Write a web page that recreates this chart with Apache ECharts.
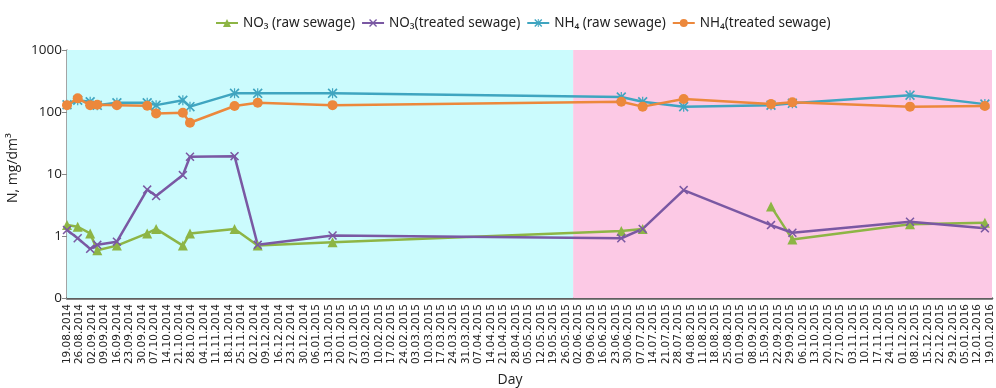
<!DOCTYPE html>
<html><head><meta charset="utf-8">
<script src="https://cdn.jsdelivr.net/npm/echarts@6/dist/echarts.min.js"></script>
<style>html,body{margin:0;padding:0;background:#fff}#c{width:996px;height:388px}</style>
</head><body><div id="c"></div>
<script>
// sampling dates
const sampleDates = ['19.08.2014','25.08.2014','01.09.2014','05.09.2014','16.09.2014','03.10.2014','08.10.2014','23.10.2014','27.10.2014','21.11.2014','04.12.2014','15.01.2015','26.06.2015','08.07.2015','31.07.2015','18.09.2015','30.09.2015','05.12.2015','16.01.2016'];
const no3Raw     = [1.5, 1.41, 1.1, 0.59, 0.7, 1.1, 1.3, 0.7, 1.1, 1.3, 0.7, 0.79, 1.2, 1.3, null, 3.0, 0.88, 1.55, 1.64];
const no3Treated = [1.25, 0.92, 0.62, 0.72, 0.81, 5.6, 4.4, 9.6, 19, 19.4, 0.72, 1.02, 0.92, 1.3, 5.5, 1.5, 1.13, 1.7, 1.33];
const nh4Raw     = [131, 155, 146, 128, 141, 141, 129, 155, 122, 200, 200, 200, 175, 146, 122, 129, 138, 187, 134];
const nh4Treated = [129, 166, 129, 131, 129, 126, 95, 97, 67, 125, 141, 129, 146, 122, 162, 134, 143, 122, 125];
const seriesNames = ['NO\u2083 (raw sewage)', 'NO\u2083(treated sewage)', 'NH\u2084 (raw sewage)', 'NH\u2084(treated sewage)'];
const axisStart = '19.08.2014';
const axisEnd = '20.01.2016';
const periodSplit = '30.05.2015';
const yTicks = [0.1, 1, 10, 100, 1000];
const yTickLabels = ['0', '1', '10', '100', '1000'];

const BASE = (function(){const p = axisStart.split('.').map(Number); return Date.UTC(p[2], p[1]-1, p[0]);})();
function dayIndex(s){const p = s.split('.').map(Number); return Math.round((Date.UTC(p[2], p[1]-1, p[0]) - BASE) / 864e5);}
function pad(n){return (n < 10 ? '0' : '') + n;}
function dayLabel(n){const t = new Date(BASE + n * 864e5); return pad(t.getUTCDate()) + '.' + pad(t.getUTCMonth()+1) + '.' + t.getUTCFullYear();}
function pts(vals){return sampleDates.map((d, i) => [dayIndex(d), vals[i] == null ? '-' : vals[i]]);}

const xPath = 'path://M0,1.2L1.2,0L5,3.8L8.8,0L10,1.2L6.2,5L10,8.8L8.8,10L5,6.2L1.2,10L0,8.8L3.8,5Z';
const starPath = 'path://M0,1.2L1.2,0L5,3.8L8.8,0L10,1.2L6.2,5L10,8.8L8.8,10L5,6.2L1.2,10L0,8.8L3.8,5ZM4.4,0L5.6,0L5.6,10L4.4,10Z';
const colors = ['#8DB545', '#7A58A3', '#3FA5C0', '#EC883C'];
const symbols = ['triangle', xPath, starPath, 'circle'];
const symSizes = [10, 9, 10, 10];
const vals = [no3Raw, no3Treated, nh4Raw, nh4Treated];

const chart = echarts.init(document.getElementById('c'), null, {renderer: 'canvas'});
const series = [{
  type: 'line', name: 'bg', data: [], silent: true,
  markArea: {silent: true, data: [
    [{xAxis: 0, itemStyle: {color: '#CBFBFD', opacity: 1}}, {xAxis: dayIndex(periodSplit)}],
    [{xAxis: dayIndex(periodSplit), itemStyle: {color: '#FCC9E5', opacity: 1}}, {xAxis: dayIndex(axisEnd)}]
  ]}
}];
seriesNames.forEach((n, i) => series.push({
  type: 'line', name: n, data: pts(vals[i]), connectNulls: false,
  symbol: symbols[i], symbolSize: symSizes[i], showAllSymbol: true,
  itemStyle: {color: colors[i]}, lineStyle: {color: colors[i], width: 2.5},
  emphasis: {disabled: true}
}));

chart.setOption({
  animation: false,
  legend: {
    data: seriesNames, left: 210, top: 11, itemWidth: 22, itemHeight: 10, itemGap: 6,
    textStyle: {fontFamily: "'Noto Sans', sans-serif", fontSize: 13.5, color: '#222'}
  },
  grid: {left: 67, right: 4, top: 50, bottom: 90, containLabel: false, outerBoundsMode: 'none'},
  xAxis: {
    type: 'value', min: 0, max: dayIndex(axisEnd), interval: 7,
    name: 'Day', nameLocation: 'middle', nameGap: 75,
    nameTextStyle: {fontFamily: "'Open Sans', sans-serif", fontSize: 14, color: '#222', padding: [0, 39, 0, 0]},
    axisLine: {show: true, lineStyle: {color: '#5E5E5E', width: 2.5}},
    axisTick: {show: false}, splitLine: {show: false},
    axisLabel: {rotate: 90, margin: 6, fontFamily: "'DejaVu Sans', sans-serif", fontSize: 10.5, color: '#222',
      showMaxLabel: false,
      formatter: v => (v % 7 === 0 ? dayLabel(v) : '')}
  },
  yAxis: {
    type: 'log', logBase: 10, min: 0.1, max: 1000,
    name: 'N, mg/dm\u00B3', nameLocation: 'middle', nameGap: 32, nameRotate: 90,
    nameTextStyle: {fontFamily: "'Open Sans', sans-serif", fontSize: 14, color: '#222', padding: [0, 0, 0, 12]},
    axisLine: {show: true, lineStyle: {color: '#868686', width: 1.5}},
    axisTick: {show: true, length: 5, lineStyle: {color: '#868686'}},
    splitLine: {show: false},
    axisLabel: {fontFamily: "'Open Sans', sans-serif", fontSize: 13.5, color: '#222', margin: 5,
      formatter: v => { const k = yTicks.findIndex(t => Math.abs(t - v) / t < 1e-6); return k >= 0 ? yTickLabels[k] : ''; }}
  },
  series: series
});
</script></body></html>
